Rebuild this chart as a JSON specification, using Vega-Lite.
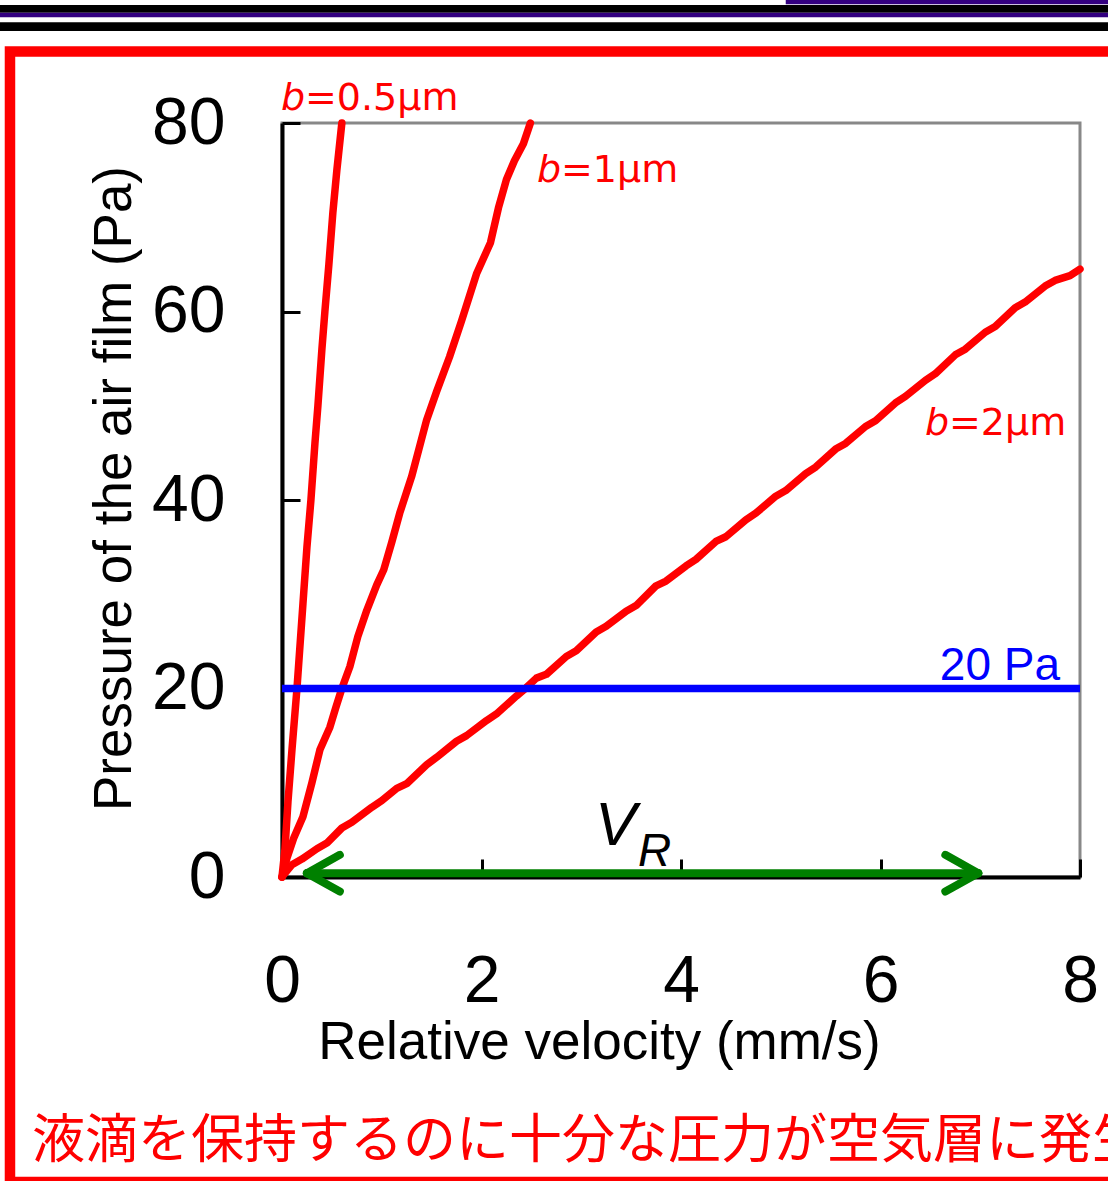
{
  "$schema": "https://vega.github.io/schema/vega-lite/v6.json",
  "width": 798,
  "height": 754,
  "autosize": {"type": "none"},
  "padding": {"left": 282, "top": 123, "right": 28, "bottom": 304},
  "background": "white",
  "config": {
    "view": {"stroke": "#888888", "strokeWidth": 3},
    "font": "Liberation Sans",
    "axis": {
      "grid": false,
      "tickSize": -18, "tickWidth": 3, "tickColor": "black",
      "domainColor": "black", "domainWidth": 4,
      "labelFontSize": 66, "labelColor": "black", "labelFlush": false, "labelOverlap": false,
      "titleFontWeight": "normal", "titleColor": "black", "titleBaseline": "alphabetic", "titleAlign": "center"
    },
    "axisX": {"labelPadding": 90, "titleFontSize": 53, "titleX": 317, "titleY": 181},
    "axisY": {"labelPadding": 75, "titleFontSize": 53, "titleX": -152, "titleY": 365, "titleAngle": 270}
  },
  "datasets": {
    "curves": [
      {"b": "0.5", "v": 0, "p": 0}, {"b": "0.5", "v": 0.03, "p": 3}, {"b": "0.5", "v": 0.06, "p": 8}, {"b": "0.5", "v": 0.1, "p": 13.5}, {"b": "0.5", "v": 0.15, "p": 20}, {"b": "0.5", "v": 0.21, "p": 29}, {"b": "0.5", "v": 0.25, "p": 35}, {"b": "0.5", "v": 0.29, "p": 40}, {"b": "0.5", "v": 0.33, "p": 46}, {"b": "0.5", "v": 0.36, "p": 50}, {"b": "0.5", "v": 0.4, "p": 56}, {"b": "0.5", "v": 0.43, "p": 60}, {"b": "0.5", "v": 0.47, "p": 65}, {"b": "0.5", "v": 0.51, "p": 70.5}, {"b": "0.5", "v": 0.55, "p": 75}, {"b": "0.5", "v": 0.6, "p": 80},
      {"b": "1", "v": 0, "p": 0}, {"b": "1", "v": 0.05, "p": 2}, {"b": "1", "v": 0.12, "p": 4.2}, {"b": "1", "v": 0.21, "p": 6.4}, {"b": "1", "v": 0.3, "p": 10}, {"b": "1", "v": 0.38, "p": 13.5}, {"b": "1", "v": 0.48, "p": 15.9}, {"b": "1", "v": 0.54, "p": 18}, {"b": "1", "v": 0.6, "p": 20}, {"b": "1", "v": 0.68, "p": 22.3}, {"b": "1", "v": 0.76, "p": 25.5}, {"b": "1", "v": 0.85, "p": 28.3}, {"b": "1", "v": 0.95, "p": 31}, {"b": "1", "v": 1.02, "p": 32.6}, {"b": "1", "v": 1.1, "p": 35.5}, {"b": "1", "v": 1.18, "p": 38.6}, {"b": "1", "v": 1.3, "p": 42.5}, {"b": "1", "v": 1.45, "p": 48.5}, {"b": "1", "v": 1.55, "p": 51.5}, {"b": "1", "v": 1.68, "p": 55.2}, {"b": "1", "v": 1.8, "p": 59}, {"b": "1", "v": 1.95, "p": 64}, {"b": "1", "v": 2.09, "p": 67.3}, {"b": "1", "v": 2.17, "p": 71}, {"b": "1", "v": 2.25, "p": 74}, {"b": "1", "v": 2.33, "p": 76}, {"b": "1", "v": 2.42, "p": 77.8}, {"b": "1", "v": 2.49, "p": 80},
      {"b": "2", "v": 0, "p": 0}, {"b": "2", "v": 0.1, "p": 1.3}, {"b": "2", "v": 0.2, "p": 1.9}, {"b": "2", "v": 0.35, "p": 3.0}, {"b": "2", "v": 0.45, "p": 3.6}, {"b": "2", "v": 0.6, "p": 5.2}, {"b": "2", "v": 0.7, "p": 5.8}, {"b": "2", "v": 0.9, "p": 7.4}, {"b": "2", "v": 1.0, "p": 8.1}, {"b": "2", "v": 1.15, "p": 9.4}, {"b": "2", "v": 1.25, "p": 9.9}, {"b": "2", "v": 1.45, "p": 11.9}, {"b": "2", "v": 1.55, "p": 12.7}, {"b": "2", "v": 1.75, "p": 14.4}, {"b": "2", "v": 1.85, "p": 15.0}, {"b": "2", "v": 2.05, "p": 16.6}, {"b": "2", "v": 2.15, "p": 17.3}, {"b": "2", "v": 2.35, "p": 19.2}, {"b": "2", "v": 2.45, "p": 20.1}, {"b": "2", "v": 2.55, "p": 21.1}, {"b": "2", "v": 2.65, "p": 21.5}, {"b": "2", "v": 2.85, "p": 23.4}, {"b": "2", "v": 2.95, "p": 24.0}, {"b": "2", "v": 3.15, "p": 26.0}, {"b": "2", "v": 3.25, "p": 26.6}, {"b": "2", "v": 3.45, "p": 28.2}, {"b": "2", "v": 3.55, "p": 28.8}, {"b": "2", "v": 3.75, "p": 30.9}, {"b": "2", "v": 3.85, "p": 31.4}, {"b": "2", "v": 4.05, "p": 33.0}, {"b": "2", "v": 4.15, "p": 33.7}, {"b": "2", "v": 4.35, "p": 35.6}, {"b": "2", "v": 4.45, "p": 36.1}, {"b": "2", "v": 4.65, "p": 37.9}, {"b": "2", "v": 4.75, "p": 38.6}, {"b": "2", "v": 4.95, "p": 40.4}, {"b": "2", "v": 5.05, "p": 41.0}, {"b": "2", "v": 5.25, "p": 42.8}, {"b": "2", "v": 5.35, "p": 43.5}, {"b": "2", "v": 5.55, "p": 45.4}, {"b": "2", "v": 5.65, "p": 46.0}, {"b": "2", "v": 5.85, "p": 47.8}, {"b": "2", "v": 5.95, "p": 48.4}, {"b": "2", "v": 6.15, "p": 50.3}, {"b": "2", "v": 6.25, "p": 51.0}, {"b": "2", "v": 6.45, "p": 52.7}, {"b": "2", "v": 6.55, "p": 53.4}, {"b": "2", "v": 6.75, "p": 55.4}, {"b": "2", "v": 6.85, "p": 56.0}, {"b": "2", "v": 7.05, "p": 57.8}, {"b": "2", "v": 7.15, "p": 58.4}, {"b": "2", "v": 7.35, "p": 60.4}, {"b": "2", "v": 7.45, "p": 61.0}, {"b": "2", "v": 7.65, "p": 62.7}, {"b": "2", "v": 7.75, "p": 63.3}, {"b": "2", "v": 7.9, "p": 63.8}, {"b": "2", "v": 8.0, "p": 64.5}
    ],
    "threshold": [{"p": 20, "label": "20 Pa"}],
    "one": [{}]
  },
  "layer": [
    {
      "data": {"name": "curves"},
      "mark": {"type": "line", "color": "#ff0000", "strokeWidth": 7.5, "strokeJoin": "round", "strokeCap": "round"},
      "encoding": {
        "x": {
          "field": "v", "type": "quantitative",
          "scale": {"domain": [0, 8], "nice": false, "zero": false},
          "axis": {"title": "Relative velocity (mm/s)", "values": [0, 2, 4, 6, 8], "format": "d"}
        },
        "y": {
          "field": "p", "type": "quantitative",
          "scale": {"domain": [0, 80], "nice": false, "zero": false},
          "axis": {"title": "Pressure of the air film (Pa)", "values": [0, 20, 40, 60, 80], "format": "d"}
        },
        "detail": {"field": "b", "type": "nominal"}
      }
    },
    {
      "data": {"name": "one"},
      "mark": {"type": "rect", "color": "black"},
      "encoding": {
        "x": {"datum": -3, "type": "quantitative", "scale": {"domain": [0, 8], "nice": false, "zero": false}},
        "x2": {"datum": 8.5},
        "y": {"datum": 92.52, "type": "quantitative", "scale": {"domain": [0, 80], "nice": false, "zero": false}},
        "y2": {"datum": 91.7}
      }
    },
    {
      "data": {"name": "one"},
      "mark": {"type": "rect", "color": "#330080"},
      "encoding": {
        "x": {"datum": -3, "type": "quantitative", "scale": {"domain": [0, 8], "nice": false, "zero": false}},
        "x2": {"datum": 8.5},
        "y": {"datum": 91.7, "type": "quantitative", "scale": {"domain": [0, 80], "nice": false, "zero": false}},
        "y2": {"datum": 91.21}
      }
    },
    {
      "data": {"name": "one"},
      "mark": {"type": "rect", "color": "#330080"},
      "encoding": {
        "x": {"datum": 5.05, "type": "quantitative", "scale": {"domain": [0, 8], "nice": false, "zero": false}},
        "x2": {"datum": 8.5},
        "y": {"datum": 93.2, "type": "quantitative", "scale": {"domain": [0, 80], "nice": false, "zero": false}},
        "y2": {"datum": 92.6}
      }
    },
    {
      "data": {"name": "one"},
      "mark": {"type": "rect", "color": "black"},
      "encoding": {
        "x": {"datum": -3, "type": "quantitative", "scale": {"domain": [0, 8], "nice": false, "zero": false}},
        "x2": {"datum": 8.5},
        "y": {"datum": 90.69, "type": "quantitative", "scale": {"domain": [0, 80], "nice": false, "zero": false}},
        "y2": {"datum": 89.76}
      }
    },
    {
      "data": {"name": "one"},
      "mark": {"type": "rect", "filled": false, "stroke": "#ff0000", "strokeWidth": 10.5},
      "encoding": {
        "x": {"datum": -2.727, "type": "quantitative", "scale": {"domain": [0, 8], "nice": false, "zero": false}},
        "x2": {"datum": 8.4},
        "y": {"datum": 87.59, "type": "quantitative", "scale": {"domain": [0, 80], "nice": false, "zero": false}},
        "y2": {"datum": -32.36}
      }
    },
    {
      "data": {"name": "threshold"},
      "mark": {"type": "rule", "color": "#0000ff", "strokeWidth": 7.5},
      "encoding": {
        "y": {"field": "p", "type": "quantitative", "scale": {"domain": [0, 80], "nice": false, "zero": false}},
        "x": {"datum": 0, "type": "quantitative", "scale": {"domain": [0, 8], "nice": false, "zero": false}},
        "x2": {"datum": 8}
      }
    },
    {
      "data": {"name": "threshold"},
      "mark": {"type": "text", "color": "#0000ff", "fontSize": 46, "font": "Liberation Sans", "align": "right", "baseline": "alphabetic", "dy": -9},
      "encoding": {
        "text": {"field": "label"},
        "y": {"field": "p", "type": "quantitative", "scale": {"domain": [0, 80], "nice": false, "zero": false}},
        "x": {"datum": 7.8, "type": "quantitative", "scale": {"domain": [0, 8], "nice": false, "zero": false}}
      }
    },
    {
      "data": {"name": "one"},
      "mark": {"type": "text", "text": "b", "color": "#ff0000", "fontSize": 38, "font": "DejaVu Sans", "fontStyle": "italic", "align": "left", "baseline": "alphabetic"},
      "encoding": {
        "x": {"datum": -0.01, "type": "quantitative", "scale": {"domain": [0, 8], "nice": false, "zero": false}},
        "y": {"datum": 81.38, "type": "quantitative", "scale": {"domain": [0, 80], "nice": false, "zero": false}}
      }
    },
    {
      "data": {"name": "one"},
      "mark": {"type": "text", "text": "=0.5µm", "color": "#ff0000", "fontSize": 38, "font": "DejaVu Sans", "align": "left", "baseline": "alphabetic", "dx": 24},
      "encoding": {
        "x": {"datum": -0.01, "type": "quantitative", "scale": {"domain": [0, 8], "nice": false, "zero": false}},
        "y": {"datum": 81.38, "type": "quantitative", "scale": {"domain": [0, 80], "nice": false, "zero": false}}
      }
    },
    {
      "data": {"name": "one"},
      "mark": {"type": "text", "text": "b", "color": "#ff0000", "fontSize": 38, "font": "DejaVu Sans", "fontStyle": "italic", "align": "left", "baseline": "alphabetic"},
      "encoding": {
        "x": {"datum": 2.556, "type": "quantitative", "scale": {"domain": [0, 8], "nice": false, "zero": false}},
        "y": {"datum": 73.74, "type": "quantitative", "scale": {"domain": [0, 80], "nice": false, "zero": false}}
      }
    },
    {
      "data": {"name": "one"},
      "mark": {"type": "text", "text": "=1µm", "color": "#ff0000", "fontSize": 38, "font": "DejaVu Sans", "align": "left", "baseline": "alphabetic", "dx": 24},
      "encoding": {
        "x": {"datum": 2.556, "type": "quantitative", "scale": {"domain": [0, 8], "nice": false, "zero": false}},
        "y": {"datum": 73.74, "type": "quantitative", "scale": {"domain": [0, 80], "nice": false, "zero": false}}
      }
    },
    {
      "data": {"name": "one"},
      "mark": {"type": "text", "text": "b", "color": "#ff0000", "fontSize": 38, "font": "DejaVu Sans", "fontStyle": "italic", "align": "left", "baseline": "alphabetic"},
      "encoding": {
        "x": {"datum": 6.446, "type": "quantitative", "scale": {"domain": [0, 8], "nice": false, "zero": false}},
        "y": {"datum": 46.9, "type": "quantitative", "scale": {"domain": [0, 80], "nice": false, "zero": false}}
      }
    },
    {
      "data": {"name": "one"},
      "mark": {"type": "text", "text": "=2µm", "color": "#ff0000", "fontSize": 38, "font": "DejaVu Sans", "align": "left", "baseline": "alphabetic", "dx": 24},
      "encoding": {
        "x": {"datum": 6.446, "type": "quantitative", "scale": {"domain": [0, 8], "nice": false, "zero": false}},
        "y": {"datum": 46.9, "type": "quantitative", "scale": {"domain": [0, 80], "nice": false, "zero": false}}
      }
    },
    {
      "data": {"name": "one"},
      "mark": {"type": "rule", "color": "#008000", "strokeWidth": 8, "strokeCap": "round"},
      "encoding": {
        "x": {"datum": 0.25, "type": "quantitative", "scale": {"domain": [0, 8], "nice": false, "zero": false}},
        "x2": {"datum": 6.98},
        "y": {"datum": 0.4, "type": "quantitative", "scale": {"domain": [0, 80], "nice": false, "zero": false}}
      }
    },
    {
      "data": {"name": "one"},
      "mark": {"type": "rule", "color": "#008000", "strokeWidth": 8, "strokeCap": "round"},
      "encoding": {
        "x": {"datum": 0.25, "type": "quantitative", "scale": {"domain": [0, 8], "nice": false, "zero": false}},
        "x2": {"datum": 0.58},
        "y": {"datum": 0.4, "type": "quantitative", "scale": {"domain": [0, 80], "nice": false, "zero": false}},
        "y2": {"datum": 2.35}
      }
    },
    {
      "data": {"name": "one"},
      "mark": {"type": "rule", "color": "#008000", "strokeWidth": 8, "strokeCap": "round"},
      "encoding": {
        "x": {"datum": 0.25, "type": "quantitative", "scale": {"domain": [0, 8], "nice": false, "zero": false}},
        "x2": {"datum": 0.58},
        "y": {"datum": 0.4, "type": "quantitative", "scale": {"domain": [0, 80], "nice": false, "zero": false}},
        "y2": {"datum": -1.55}
      }
    },
    {
      "data": {"name": "one"},
      "mark": {"type": "rule", "color": "#008000", "strokeWidth": 8, "strokeCap": "round"},
      "encoding": {
        "x": {"datum": 6.98, "type": "quantitative", "scale": {"domain": [0, 8], "nice": false, "zero": false}},
        "x2": {"datum": 6.65},
        "y": {"datum": 0.4, "type": "quantitative", "scale": {"domain": [0, 80], "nice": false, "zero": false}},
        "y2": {"datum": 2.35}
      }
    },
    {
      "data": {"name": "one"},
      "mark": {"type": "rule", "color": "#008000", "strokeWidth": 8, "strokeCap": "round"},
      "encoding": {
        "x": {"datum": 6.98, "type": "quantitative", "scale": {"domain": [0, 8], "nice": false, "zero": false}},
        "x2": {"datum": 6.65},
        "y": {"datum": 0.4, "type": "quantitative", "scale": {"domain": [0, 80], "nice": false, "zero": false}},
        "y2": {"datum": -1.55}
      }
    },
    {
      "data": {"name": "one"},
      "mark": {"type": "text", "text": "V", "color": "black", "fontSize": 62, "font": "Liberation Sans", "fontStyle": "italic", "align": "left", "baseline": "alphabetic"},
      "encoding": {
        "x": {"datum": 3.138, "type": "quantitative", "scale": {"domain": [0, 8], "nice": false, "zero": false}},
        "y": {"datum": 3.395, "type": "quantitative", "scale": {"domain": [0, 80], "nice": false, "zero": false}}
      }
    },
    {
      "data": {"name": "one"},
      "mark": {"type": "text", "text": "R", "color": "black", "fontSize": 46, "font": "Liberation Sans", "fontStyle": "italic", "align": "left", "baseline": "alphabetic"},
      "encoding": {
        "x": {"datum": 3.569, "type": "quantitative", "scale": {"domain": [0, 8], "nice": false, "zero": false}},
        "y": {"datum": 1.167, "type": "quantitative", "scale": {"domain": [0, 80], "nice": false, "zero": false}}
      }
    },
    {
      "data": {"name": "one"},
      "mark": {"type": "text", "text": "液滴を保持するのに十分な圧力が空気層に発生", "color": "#ff0000", "fontSize": 53, "font": "Noto Sans CJK JP", "align": "left", "baseline": "alphabetic"},
      "encoding": {
        "x": {"datum": -2.506, "type": "quantitative", "scale": {"domain": [0, 8], "nice": false, "zero": false}},
        "y": {"datum": -29.81, "type": "quantitative", "scale": {"domain": [0, 80], "nice": false, "zero": false}}
      }
    }
  ]
}
